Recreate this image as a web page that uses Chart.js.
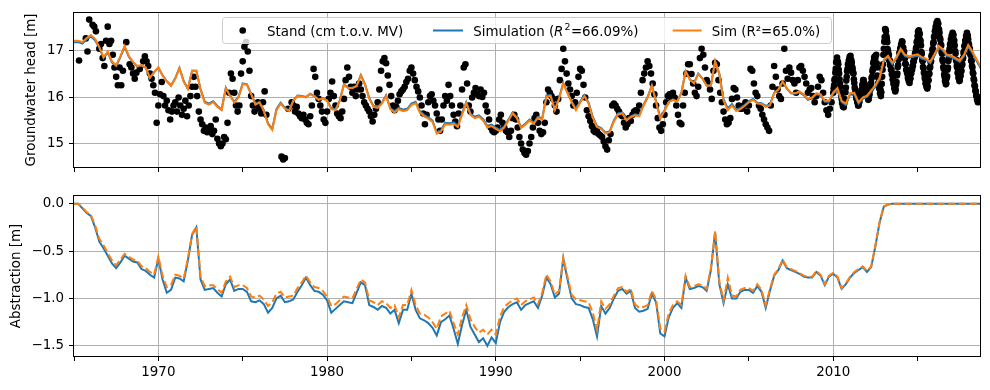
<!DOCTYPE html>
<html>
<head>
<meta charset="utf-8">
<script src="https://cdn.jsdelivr.net/npm/chart.js@4.4.1/dist/chart.umd.min.js"></script>
<style>
html, body { margin: 0; padding: 0; background: #fff; }
#wrap { position: relative; width: 990px; height: 390px; }
#top { position: absolute; left: 0; top: 0; }
#bot { position: absolute; left: 0; top: 183px; }
</style>
</head>
<body>
<div id="wrap">
  <canvas id="top" width="990" height="180"></canvas>
  <canvas id="bot" width="990" height="207"></canvas>
</div>
<script>
// observed head, one value every 0.1 year from 1965.3 to 2009.9 (null = no measurement)
const obsStart = 1965.3;
const obsStep = 0.1;
const obsHead = [
  16.78, null, null, null, 17.25, 16.97, 17.65,
  null, 17.54, 17.50, 17.40, null, 17.03, 17.13, 16.83, 16.66, 17.20,
  17.50, 17.13, 17.20, 16.90, 16.63, 16.43, 16.25, 16.63, 16.25, 16.56,
  null, 17.17, null, 16.70, 16.63, 16.50, 16.39, 16.52, null, 16.60,
  null, 16.76, 16.87, 16.76, 16.66, 16.50, 16.39, 16.25, 16.09, 15.45,
  15.82, 16.06, 16.32, 16.02, 15.82, 15.92, 15.72, 15.52, 15.69, 15.82,
  15.89, 15.69, 15.99, 15.82, 15.62, 15.75, 15.92, 15.59, 15.82, 16.02,
  16.22, 16.43, 16.22, 16.02, 15.69, 15.52, 15.42, 15.28, 15.35, 15.25,
  15.32, 15.38, 15.21, 15.28, 15.52, 15.11, 15.01, 14.95, 15.01, 15.15,
  15.10, 15.45, 16.09, 16.50, 16.39, 16.09, 15.82, 15.69, 15.82, 16.50,
  16.76, 17.07, 17.17, 16.97, 16.56, 16.02, 15.82, 15.69, 15.82, 15.89,
  15.75, 15.65, 15.89, 16.12, 15.62, null, null, null, null, null,
  null, null, null, 14.73, 14.67, 14.70, null, 15.75, null, 15.89,
  15.82, 15.69, 15.79, 15.65, 15.59, 15.55, 15.62, 15.52, 15.45, 15.42,
  15.59, 15.82, 16.60, 16.43, 16.09, 15.96, 15.82, 15.69, 15.52, 15.45,
  15.69, 15.96, 16.09, 16.33, 16.02, 15.82, 15.65, 15.59, 15.55, 15.69,
  15.96, 16.36, 16.63, 16.43, 16.22, 16.09, 16.22, 16.02, 16.16, 16.29,
  16.16, 16.02, 15.89, 15.82, 15.75, 15.69, 15.59, 15.48, 15.62, 15.75,
  15.89, 16.16, 16.56, 16.76, 16.83, 16.72, 16.46, 16.26, 16.02, 15.82,
  15.72, 15.79, 15.92, 16.06, 16.12, 16.16, 16.22, 16.32, 16.39, 16.56,
  16.63, 16.50, 16.36, 16.22, 16.12, 15.99, 15.82, 15.65, 15.42, 15.62,
  15.89, 16.02, 16.06, 15.92, 15.82, 15.65, 15.52, 15.28, 15.52, 15.82,
  16.02, 15.92, 16.26, 16.02, 15.82, 15.62, 15.48, 15.38, 15.65, 15.82,
  16.16, 16.63, 16.70, 16.29, 15.82, 15.69, 15.99, 16.09, 16.19, 16.06,
  16.02, 16.16, 16.00, 16.09, 15.82, 15.69, 15.52, 15.35, 15.28, 15.25,
  15.28, 15.35, 15.52, 15.62, 15.45, 15.35, 15.28, 15.25, 15.15, 15.28,
  15.55, 15.62, 15.52, 15.35, 15.15, 15.01, 14.88, 14.81, 14.77, 14.85,
  15.01, 15.15, 15.35, 15.55, 15.62, 15.45, 15.28, 15.21, 15.25, 15.45,
  15.89, 16.16, 16.09, 16.02, 15.96, 15.82, 15.69, 15.96, 16.36, 16.60,
  17.03, 16.76, 16.50, 16.29, 16.16, 16.02, 15.82, 15.89, 16.09, 16.43,
  16.60, 16.56, 16.26, 15.99, 15.72, 15.59, 15.49, 15.38, 15.28, 15.25,
  15.31, 15.21, 15.18, 15.15, 15.05, 14.95, 14.88, 15.08, 15.21, 15.82,
  15.86, 15.82, 15.75, 15.69, 15.62, 15.59, 15.45, 15.35, 15.42, 15.55,
  15.49, 15.62, 15.69, 15.72, 15.69, 15.82, 16.09, 16.36, 16.50, 16.63,
  16.76, 16.66, 16.50, 16.29, 16.06, 15.82, 15.55, 15.35, 15.28, 15.42,
  15.62, 15.89, 16.02, 16.06, 15.99, 16.09, 15.99, 15.82, 15.62, 15.45,
  15.42, 15.82, 16.09, 16.50, 16.70, 16.70, 16.49, 16.29, 16.09, 16.02,
  16.22, 16.83, 17.03, 16.90, 16.63, 16.36, 16.29, 16.16, 15.96, 16.56,
  16.73, 16.70, 16.36, 16.09, 15.89, 15.69, 15.52, 15.42, 15.45, 15.55,
  15.96, 16.19, 16.16, 15.99, 15.82, 15.75, 15.75, 15.82, 15.89, 15.69,
  15.82, 16.60, 16.56, 16.29, 16.09, 16.02, 15.82, 15.75, 15.62, 15.52,
  15.42, 15.35, 15.28, 15.82, 16.22, 16.66, 16.43, 16.16, 16.02, 15.96,
  16.29, 17.03, 16.56, 16.39, 16.63, 16.52, 16.36, 16.29, 16.09, 16.36,
  16.63, 16.66, 16.56, 16.43, 16.29, 16.09, 16.16, 16.19, 16.02, 15.89,
  16.02, 16.22, 16.43, 16.36, 16.09, 15.89, 15.72, 15.62, 15.75, 15.89
];
// frequent measurements from 2010.0, one value every 0.025 year
const obsLateStart = 2010.0;
const obsLateStep = 0.025;
const obsLate = [
  16.09, 16.18, 16.25, 16.36, 16.39, 16.52, 16.60, 16.74, 16.76, 16.84, 16.76, 16.75, 16.70, 16.58, 16.50, 16.38, 16.29, 16.22, 16.10, 16.04,
  15.96, 15.88, 15.86, 15.80, 15.82, 15.78, 15.85, 15.94, 15.95, 16.10, 16.20, 16.35, 16.43, 16.55, 16.60, 16.70, 16.70, 16.78, 16.80, 16.86,
  16.83, 16.88, 16.80, 16.78, 16.73, 16.64, 16.60, 16.52, 16.50, 16.38, 16.30, 16.20, 16.16, 16.08, 16.04, 15.97, 15.96, 15.90, 15.88, 15.82,
  15.82, 15.88, 15.90, 15.98, 15.99, 16.06, 16.08, 16.15, 16.16, 16.25, 16.28, 16.36, 16.36, 16.30, 16.28, 16.22, 16.22, 16.15, 16.14, 16.07,
  16.09, 16.02, 16.00, 15.94, 15.96, 16.03, 16.06, 16.14, 16.16, 16.27, 16.30, 16.40, 16.43, 16.55, 16.60, 16.72, 16.76, 16.84, 16.82, 16.87,
  16.83, 16.68, 16.90, 16.72, 16.63, 16.46, 16.42, 16.30, 16.29, 16.18, 16.18, 16.08, 16.16, 16.02, 16.10, 16.28, 16.43, 16.58, 16.70, 16.90,
  17.03, 17.18, 17.28, 17.45, 17.44, 17.40, 17.30, 17.25, 17.17, 17.02, 16.98, 16.88, 16.90, 16.78, 16.78, 16.68, 16.70, 16.58, 16.58, 16.48,
  16.50, 16.38, 16.36, 16.28, 16.29, 16.18, 16.20, 16.12, 16.16, 16.26, 16.32, 16.46, 16.50, 16.64, 16.68, 16.80, 16.83, 16.94, 16.95, 17.04,
  17.03, 17.12, 17.12, 17.19, 17.17, 17.06, 17.05, 16.96, 16.97, 16.86, 16.82, 16.71, 16.70, 16.58, 16.58, 16.51, 16.50, 16.41, 16.40, 16.34,
  16.36, 16.30, 16.38, 16.40, 16.50, 16.50, 16.58, 16.58, 16.66, 16.66, 16.75, 16.76, 16.83, 16.84, 16.93, 16.94, 17.03, 17.06, 17.17, 17.20,
  17.30, 17.39, 17.40, 17.42, 17.37, 17.34, 17.22, 17.19, 17.10, 16.96, 16.92, 16.80, 16.76, 16.64, 16.62, 16.52, 16.50, 16.41, 16.38, 16.29,
  16.29, 16.22, 16.24, 16.18, 16.23, 16.34, 16.36, 16.48, 16.50, 16.62, 16.64, 16.74, 16.76, 16.87, 16.90, 17.00, 17.03, 17.14, 17.17, 17.28,
  17.30, 17.40, 17.42, 17.50, 17.50, 17.58, 17.57, 17.62, 17.57, 17.56, 17.45, 17.44, 17.37, 17.26, 17.22, 17.12, 17.10, 16.96, 16.92, 16.80,
  16.76, 16.64, 16.60, 16.48, 16.43, 16.34, 16.34, 16.27, 16.29, 16.40, 16.44, 16.58, 16.63, 16.77, 16.83, 16.97, 17.03, 17.12, 17.14, 17.23,
  17.23, 17.31, 17.31, 17.37, 17.34, 17.32, 17.22, 17.20, 17.10, 16.98, 16.93, 16.80, 16.76, 16.66, 16.63, 16.52, 16.50, 16.41, 16.41, 16.34,
  16.36, 16.44, 16.46, 16.55, 16.56, 16.67, 16.70, 16.81, 16.83, 16.94, 16.97, 17.08, 17.10, 17.20, 17.21, 17.30, 17.30, 17.37, 17.30, 17.31,
  17.23, 17.14, 17.12, 17.03, 17.03, 16.92, 16.89, 16.78, 16.76, 16.66, 16.63, 16.52, 16.50, 16.39, 16.36, 16.25, 16.23, 16.14, 16.12, 16.03,
  16.02, 15.95, 15.96, 15.89, 15.90, 15.96, 15.94, 15.99, 15.96
];

// simulated series, one value every quarter year from 1965.0
const simStart = 1965.0;
const simStep = 0.25;
const simHead = [
  17.17, 17.17, 17.14, 17.23, 17.29, 17.21, 17.05, 16.83, 16.95, 16.74, 16.66, 16.85,
  17.07, 16.86, 16.74, 16.65, 16.67, 16.62, 16.41, 16.53, 16.63, 16.46, 16.34, 16.25,
  16.40, 16.62, 16.34, 16.18, 16.56, 16.56, 16.17, 15.90, 15.86, 15.91, 15.81, 15.74,
  16.20, 16.03, 15.90, 16.00, 16.29, 16.27, 16.07, 15.86, 15.90, 15.72, 15.44, 15.32,
  15.74, 15.88, 15.77, 15.72, 15.93, 16.03, 16.02, 16.00, 16.07, 16.02, 15.95, 15.98,
  15.93, 15.76, 15.74, 15.93, 16.27, 16.20, 16.20, 16.24, 16.47, 16.27, 15.98, 15.81,
  15.79, 15.88, 16.04, 15.76, 15.70, 15.77, 15.73, 15.75, 15.86, 15.90, 15.70, 15.62,
  15.57, 15.50, 15.25, 15.29, 15.45, 15.44, 15.46, 15.39, 15.65, 15.89, 15.65, 15.58,
  15.61, 15.53, 15.38, 15.41, 15.35, 15.30, 15.37, 15.52, 15.67, 15.57, 15.36, 15.43,
  15.52, 15.45, 15.58, 15.54, 16.03, 16.04, 15.74, 15.98, 16.30, 16.10, 15.91, 15.74,
  15.90, 16.04, 15.88, 15.58, 15.38, 15.34, 15.24, 15.27, 15.50, 15.65, 15.67, 15.52,
  15.59, 15.63, 15.61, 15.83, 16.00, 16.25, 15.91, 15.56, 15.72, 15.90, 15.95, 15.91,
  16.09, 16.55, 16.38, 16.30, 16.50, 16.40, 16.25, 16.25, 16.76, 16.50, 15.95, 15.76,
  15.85, 15.73, 15.77, 15.83, 15.91, 15.96, 15.88, 15.87, 15.81, 15.84, 16.09, 16.16,
  16.32, 16.18, 16.08, 16.07, 16.10, 16.04, 15.94, 15.97, 16.06, 16.04, 15.90, 15.90,
  16.07, 16.16, 15.89, 15.83, 16.05, 16.06, 15.86, 15.96, 16.00, 16.11, 16.22, 16.38,
  16.77, 16.85, 16.70, 16.82, 17.00, 16.87, 16.84, 16.86, 16.88, 16.82, 16.79, 16.72,
  16.88, 17.06, 16.99, 16.87, 16.85, 16.80, 16.75, 16.87, 17.08, 16.94, 16.77, 16.61
];
const simHead2 = [
  17.20, 17.20, 17.17, 17.26, 17.32, 17.24, 17.07, 16.85, 16.97, 16.76, 16.68, 16.87,
  17.09, 16.87, 16.75, 16.66, 16.68, 16.63, 16.41, 16.53, 16.63, 16.46, 16.33, 16.24,
  16.39, 16.62, 16.33, 16.17, 16.56, 16.56, 16.16, 15.88, 15.84, 15.89, 15.79, 15.72,
  16.19, 16.02, 15.88, 15.99, 16.28, 16.26, 16.06, 15.84, 15.88, 15.70, 15.42, 15.30,
  15.72, 15.86, 15.75, 15.70, 15.92, 16.02, 16.01, 15.99, 16.06, 16.01, 15.94, 15.97,
  15.92, 15.74, 15.72, 15.92, 16.26, 16.19, 16.19, 16.23, 16.46, 16.26, 15.96, 15.79,
  15.77, 15.86, 16.02, 15.74, 15.67, 15.74, 15.70, 15.72, 15.83, 15.87, 15.67, 15.59,
  15.54, 15.47, 15.22, 15.26, 15.42, 15.41, 15.43, 15.36, 15.62, 15.87, 15.62, 15.55,
  15.58, 15.50, 15.35, 15.38, 15.32, 15.27, 15.35, 15.50, 15.65, 15.55, 15.34, 15.41,
  15.50, 15.43, 15.56, 15.52, 16.01, 16.02, 15.72, 15.96, 16.29, 16.08, 15.89, 15.72,
  15.88, 16.02, 15.86, 15.56, 15.36, 15.32, 15.22, 15.25, 15.48, 15.63, 15.65, 15.50,
  15.57, 15.61, 15.59, 15.81, 15.99, 16.24, 15.89, 15.54, 15.70, 15.89, 15.94, 15.90,
  16.08, 16.55, 16.37, 16.29, 16.49, 16.39, 16.24, 16.24, 16.76, 16.49, 15.92, 15.72,
  15.82, 15.70, 15.74, 15.81, 15.89, 15.94, 15.86, 15.85, 15.79, 15.82, 16.08, 16.16,
  16.33, 16.19, 16.09, 16.08, 16.12, 16.06, 15.96, 15.99, 16.08, 16.06, 15.92, 15.92,
  16.10, 16.19, 15.92, 15.86, 16.08, 16.09, 15.89, 15.99, 16.03, 16.14, 16.25, 16.41,
  16.80, 16.88, 16.73, 16.85, 17.03, 16.90, 16.87, 16.89, 16.91, 16.85, 16.82, 16.75,
  16.91, 17.09, 17.02, 16.90, 16.88, 16.83, 16.78, 16.90, 17.11, 16.97, 16.80, 16.64
];
const abstr = [
  0.00, 0.00, -0.05, -0.10, -0.13, -0.25, -0.40, -0.47, -0.55, -0.63, -0.68, -0.62,
  -0.55, -0.58, -0.61, -0.62, -0.69, -0.71, -0.75, -0.78, -0.58, -0.80, -0.94, -0.91,
  -0.78, -0.79, -0.82, -0.60, -0.33, -0.25, -0.80, -0.91, -0.90, -0.89, -0.94, -0.98,
  -0.85, -0.80, -0.92, -0.90, -0.90, -0.93, -1.03, -1.04, -1.02, -1.06, -1.15, -1.10,
  -1.00, -0.97, -1.04, -1.03, -1.01, -0.93, -0.86, -0.78, -0.86, -0.92, -0.93, -0.96,
  -1.02, -1.15, -1.11, -1.07, -1.03, -1.04, -1.05, -0.94, -0.83, -0.86, -1.07, -1.09,
  -1.12, -1.08, -1.10, -1.16, -1.12, -1.26, -1.12, -1.12, -0.95, -1.12, -1.21, -1.23,
  -1.26, -1.31, -1.39, -1.25, -1.22, -1.18, -1.32, -1.48, -1.28, -1.12, -1.30, -1.38,
  -1.46, -1.42, -1.50, -1.41, -1.47, -1.25, -1.14, -1.09, -1.06, -1.04, -1.12, -1.07,
  -1.05, -1.03, -1.10, -0.97, -0.78, -0.85, -0.99, -0.95, -0.58, -0.80, -1.00, -1.06,
  -1.07, -1.09, -1.10, -1.22, -1.40, -1.08, -1.16, -1.10, -1.00, -0.92, -0.90, -0.95,
  -0.92, -1.10, -1.14, -1.13, -1.11, -0.95, -1.04, -1.37, -1.40, -1.20, -1.10, -1.05,
  -1.10, -0.78, -0.90, -0.89, -0.87, -0.88, -0.92, -0.70, -0.30, -0.85, -1.05, -0.85,
  -1.00, -1.00, -0.93, -0.91, -0.91, -0.94, -0.87, -0.93, -1.10, -0.92, -0.76, -0.70,
  -0.60, -0.68, -0.70, -0.72, -0.74, -0.77, -0.78, -0.78, -0.72, -0.76, -0.86, -0.77,
  -0.74, -0.78, -0.90, -0.85, -0.78, -0.73, -0.70, -0.67, -0.72, -0.67, -0.45, -0.20,
  -0.03, -0.01, 0.00, 0.00, 0.00, 0.00, 0.00, 0.00, 0.00, 0.00, 0.00, 0.00,
  0.00, 0.00, 0.00, 0.00, 0.00, 0.00, 0.00, 0.00, 0.00, 0.00, 0.00, 0.00
];
const abstr2 = [
  0.00, 0.00, -0.04, -0.09, -0.12, -0.23, -0.37, -0.44, -0.52, -0.60, -0.65, -0.59,
  -0.53, -0.56, -0.59, -0.60, -0.66, -0.68, -0.72, -0.75, -0.56, -0.76, -0.88, -0.86,
  -0.75, -0.76, -0.79, -0.58, -0.32, -0.24, -0.77, -0.87, -0.86, -0.86, -0.90, -0.94,
  -0.82, -0.77, -0.88, -0.86, -0.86, -0.89, -0.98, -0.99, -0.97, -1.01, -1.08, -1.04,
  -0.95, -0.93, -0.99, -0.98, -0.97, -0.89, -0.83, -0.76, -0.83, -0.88, -0.89, -0.92,
  -0.98, -1.08, -1.06, -1.02, -0.98, -0.99, -1.00, -0.90, -0.80, -0.83, -1.02, -1.04,
  -1.07, -1.03, -1.05, -1.10, -1.07, -1.20, -1.07, -1.07, -0.91, -1.07, -1.16, -1.17,
  -1.20, -1.25, -1.32, -1.19, -1.16, -1.13, -1.26, -1.38, -1.20, -1.07, -1.22, -1.30,
  -1.36, -1.33, -1.38, -1.33, -1.38, -1.19, -1.09, -1.05, -1.02, -1.00, -1.07, -1.03,
  -1.01, -0.99, -1.06, -0.94, -0.75, -0.82, -0.96, -0.92, -0.57, -0.77, -0.96, -1.01,
  -1.02, -1.03, -1.04, -1.15, -1.33, -1.03, -1.11, -1.06, -0.97, -0.89, -0.88, -0.93,
  -0.90, -1.06, -1.10, -1.09, -1.07, -0.92, -1.01, -1.32, -1.35, -1.16, -1.07, -1.03,
  -1.07, -0.76, -0.88, -0.87, -0.85, -0.86, -0.90, -0.68, -0.29, -0.82, -1.02, -0.78,
  -0.97, -0.98, -0.91, -0.89, -0.89, -0.92, -0.85, -0.91, -1.07, -0.90, -0.75, -0.69,
  -0.59, -0.67, -0.69, -0.71, -0.73, -0.76, -0.77, -0.77, -0.71, -0.75, -0.85, -0.76,
  -0.73, -0.77, -0.89, -0.84, -0.77, -0.72, -0.69, -0.66, -0.71, -0.66, -0.44, -0.19,
  -0.03, -0.01, 0.00, 0.00, 0.00, 0.00, 0.00, 0.00, 0.00, 0.00, 0.00, 0.00,
  0.00, 0.00, 0.00, 0.00, 0.00, 0.00, 0.00, 0.00, 0.00, 0.00, 0.00, 0.00
];

const xTicks = [1965, 1970, 1975, 1980, 1985, 1990, 1995, 2000, 2005, 2010, 2015];
const headTicks = [15, 16, 17];
const abstrTicks = [-1.5, -1.0, -0.5, 0.0];
const obsLabel = 'Stand (cm t.o.v. MV)';
const simLabel = ['Simulation (', 'R', '2', '=66.09%)'];
const sim2Label = 'Sim (R\u00b2=65.0%)';

const BLUE = '#1f77b4', ORANGE = '#ff7f0e', GRID = '#b0b0b0';
const FAM = "'DejaVu Sans', sans-serif";
Chart.defaults.font.family = FAM;
Chart.defaults.font.size = 13.4;
Chart.defaults.color = '#000';

function series(start, step, vals) {
  return vals.map((v, i) => ({ x: +(start + i * step).toFixed(3), y: v }))
             .filter(p => p.y !== null);
}

// box around the plot area, like matplotlib spines
const frame = {
  id: 'frame',
  afterDatasetsDraw(chart) {
    const a = chart.chartArea, c = chart.ctx;
    c.save();
    c.strokeStyle = '#000';
    c.lineWidth = 1;
    c.strokeRect(Math.round(a.left) - 0.5, Math.round(a.top) - 0.5,
                 Math.round(a.right - a.left) + 1, Math.round(a.bottom - a.top) + 1);
    c.restore();
  }
};

function roundRect(c, x, y, w, h, r) {
  c.beginPath();
  c.moveTo(x + r, y);
  c.lineTo(x + w - r, y); c.quadraticCurveTo(x + w, y, x + w, y + r);
  c.lineTo(x + w, y + h - r); c.quadraticCurveTo(x + w, y + h, x + w - r, y + h);
  c.lineTo(x + r, y + h); c.quadraticCurveTo(x, y + h, x, y + h - r);
  c.lineTo(x, y + r); c.quadraticCurveTo(x, y, x + r, y);
  c.closePath();
}

// legend drawn by hand for the italic R and superscript
const headLegend = {
  id: 'headLegend',
  afterDraw(chart) {
    const c = chart.ctx;
    const base = 36, mid = 30.5;
    c.save();
    roundRect(c, 222.5, 17.5, 609, 26, 3);
    c.fillStyle = 'rgba(255,255,255,0.8)';
    c.fill();
    c.strokeStyle = '#cccccc';
    c.lineWidth = 1;
    c.stroke();

    c.fillStyle = '#000';
    c.beginPath(); c.arc(242.7, mid, 3.3, 0, Math.PI * 2); c.fill();
    c.font = '13.4px ' + FAM;
    c.textBaseline = 'alphabetic';
    c.fillText(obsLabel, 267, base);

    c.lineWidth = 2;
    c.strokeStyle = BLUE;
    c.beginPath(); c.moveTo(433, mid); c.lineTo(463, mid); c.stroke();
    let x = 473.3;
    c.font = '13.4px ' + FAM;
    c.fillText(simLabel[0], x, base); x += c.measureText(simLabel[0]).width;
    c.font = 'italic 13.4px ' + FAM;
    c.fillText(simLabel[1], x, base); x += c.measureText(simLabel[1]).width + 1;
    c.font = '9.4px ' + FAM;
    c.fillText(simLabel[2], x, base - 6); x += c.measureText(simLabel[2]).width + 0.5;
    c.font = '13.4px ' + FAM;
    c.fillText(simLabel[3], x, base);

    c.strokeStyle = ORANGE;
    c.beginPath(); c.moveTo(672.7, mid); c.lineTo(701.7, mid); c.stroke();
    c.fillText(sim2Label, 711.7, base);
    c.restore();
  }
};

function xAxis(showLabels, height) {
  return {
    type: 'linear', min: 1965.0, max: 2018.7,
    afterBuildTicks: s => { s.ticks = xTicks.map(v => ({ value: v })); },
    afterFit: s => { s.height = height; },
    ticks: {
      display: showLabels, autoSkip: false, maxRotation: 0, padding: 3,
      callback: v => (v % 10 === 0 ? String(v) : '')
    },
    grid: {
      color: ctx => (ctx.tick && ctx.tick.value % 10 === 0 && ctx.tick.value !== 1965 ? GRID : 'rgba(0,0,0,0)'),
      tickColor: '#000', tickLength: 5, lineWidth: 1, tickWidth: 1
    },
    border: { display: false }
  };
}

function yAxis(min, max, tickVals, fmt, title, titlePad) {
  return {
    type: 'linear', min: min, max: max,
    afterBuildTicks: s => { s.ticks = tickVals.map(v => ({ value: v })); },
    afterFit: s => { s.width = 74; },
    ticks: { padding: 5, callback: fmt },
    grid: { color: GRID, tickColor: '#000', tickLength: 5, lineWidth: 1, tickWidth: 1 },
    border: { display: false },
    title: { display: true, text: title, font: { size: 13.4 }, padding: { top: titlePad, bottom: 0 } }
  };
}

const obsPoints = series(obsStart, obsStep, obsHead).concat(series(obsLateStart, obsLateStep, obsLate));

new Chart(document.getElementById('top'), {
  type: 'scatter',
  data: {
    datasets: [
      { label: obsLabel, data: obsPoints, order: 3,
        backgroundColor: '#000', borderColor: '#000', pointRadius: 3.3, pointBorderWidth: 0, clip: 0 },
      { label: 'Simulation', data: series(simStart, simStep, simHead), order: 2, showLine: true,
        borderColor: BLUE, borderWidth: 2, pointRadius: 0, tension: 0, clip: 0 },
      { label: 'Sim', data: series(simStart, simStep, simHead2), order: 1, showLine: true,
        borderColor: ORANGE, borderWidth: 2, pointRadius: 0, tension: 0, clip: 0 }
    ]
  },
  options: {
    responsive: false, animation: false, devicePixelRatio: 1,
    layout: { padding: { left: 0, right: 10, top: 11, bottom: 0 } },
    plugins: { legend: { display: false }, tooltip: { enabled: false } },
    scales: {
      x: xAxis(false, 7),
      y: yAxis(14.51, 17.79, headTicks, v => String(v), 'Groundwater head [m]', 23.5)
    }
  },
  plugins: [frame, headLegend]
});

new Chart(document.getElementById('bot'), {
  type: 'scatter',
  data: {
    datasets: [
      { label: 'Simulation', data: series(simStart, simStep, abstr), order: 2, showLine: true,
        borderColor: BLUE, borderWidth: 2, pointRadius: 0, tension: 0, clip: 0 },
      { label: 'Sim', data: series(simStart, simStep, abstr2), order: 1, showLine: true,
        borderColor: ORANGE, borderWidth: 2, borderDash: [7.5, 3.3], pointRadius: 0, tension: 0, clip: 0 }
    ]
  },
  options: {
    responsive: false, animation: false, devicePixelRatio: 1,
    layout: { padding: { left: 0, right: 10, top: 10, bottom: 0 } },
    plugins: { legend: { display: false }, tooltip: { enabled: false } },
    scales: {
      x: xAxis(true, 34),
      y: yAxis(-1.607, 0.08, abstrTicks, v => v.toFixed(1).replace('-', '\u2212'), 'Abstraction [m]', 8)
    }
  },
  plugins: [frame]
});
</script>
</body>
</html>
